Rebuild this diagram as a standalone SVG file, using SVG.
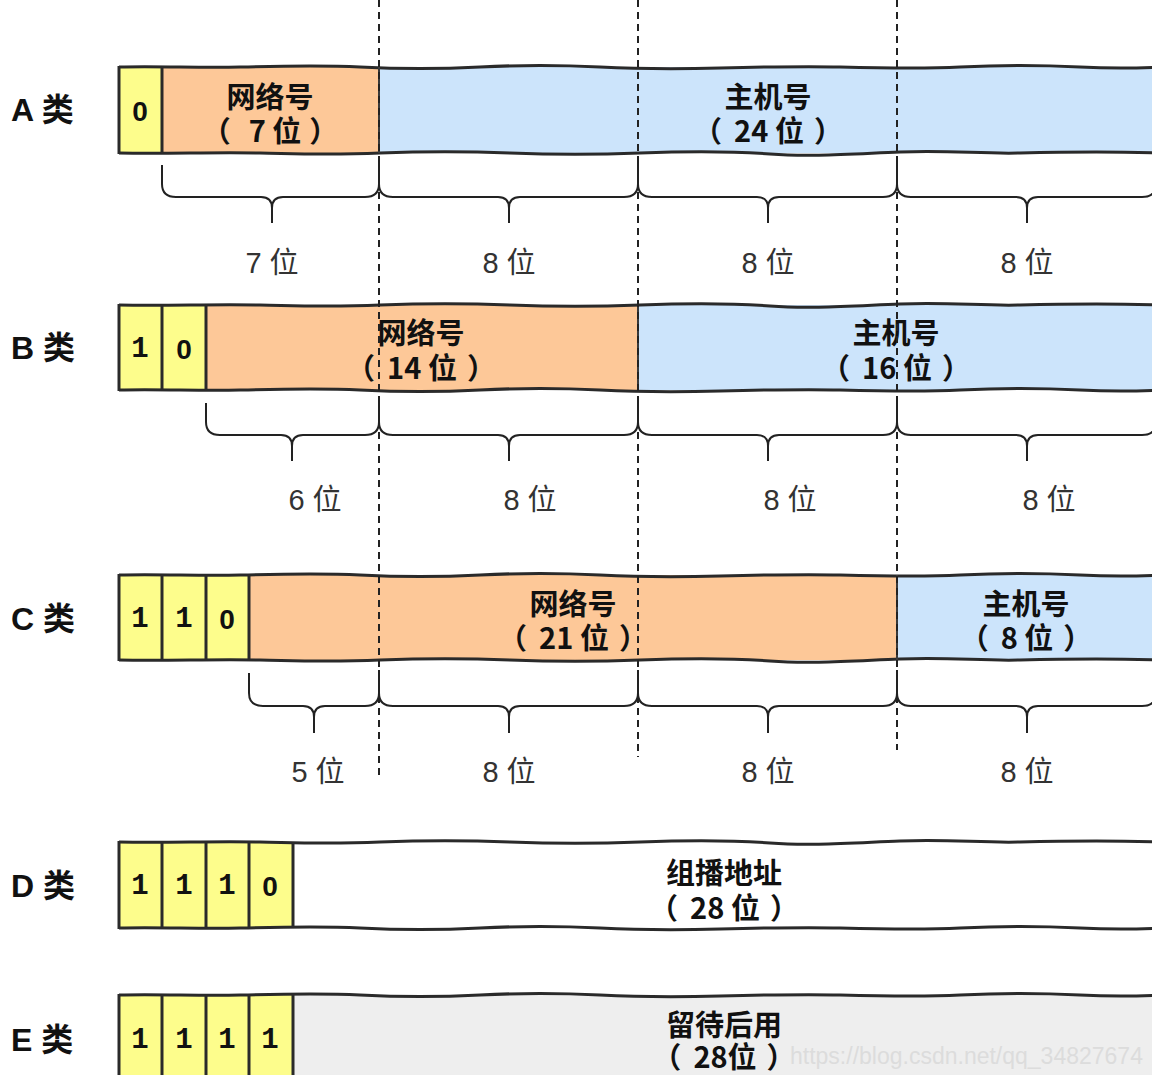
<svg xmlns="http://www.w3.org/2000/svg" xmlns:xlink="http://www.w3.org/1999/xlink" width="1152" height="1075" viewBox="0 0 1152 1075">
<style>
.bit{font-family:"Liberation Mono",monospace;font-weight:bold;font-size:29px;text-anchor:middle;dominant-baseline:central;fill:#111}
.bit0{font-family:"Liberation Sans",sans-serif;font-weight:bold;font-size:28px;text-anchor:middle;dominant-baseline:central;fill:#111}
.cls{font-family:"Liberation Sans","Noto Sans CJK SC",sans-serif;font-weight:bold;font-size:32px;dominant-baseline:central;fill:#111}
.fld{font-family:"Noto Sans CJK SC",sans-serif;font-weight:bold;font-size:29px;text-anchor:middle;dominant-baseline:central;fill:#111}
.lbl{font-family:"Liberation Sans","Noto Sans CJK SC",sans-serif;font-size:29px;text-anchor:middle;dominant-baseline:central;fill:#333}
.edge{fill:none;stroke:#2a2a2a;stroke-width:3}
.div{stroke:#2a2a2a;stroke-width:3}
.cdiv{stroke:#3a3a3a;stroke-width:2}
.brace{fill:none;stroke:#222;stroke-width:2}
.guide{stroke:#222;stroke-width:2;stroke-dasharray:7 5}
.y{fill:#fdfd8c}.o{fill:#fdc898}.b{fill:#cce4fb}.w{fill:#ffffff}.g{fill:#eeeeee}
.wm{font-family:"Liberation Sans",sans-serif;font-size:23px;fill:#dcdcdc}
</style>
<defs>
<path id="wave" d="M119,0 C160,-1 200,1 240,0 S320,-2 360,0 S440,2 480,0 S560,-2 600,0 S680,2 720,1 S800,-1 840,0 S920,2 960,0 S1040,-2 1080,0 S1140,1 1165,0"/>
<path id="wave2" d="M119,0 C170,1 210,-1 260,0 S330,2 380,0 S460,-2 510,0 S590,2 640,0 S730,-2 770,1 S850,1 900,-1 S980,1 1020,0 S1100,-2 1165,0"/>
</defs>

<g id="rowA">
<rect class="y" x="119" y="67" width="43" height="86"/>
<rect class="o" x="162" y="67" width="217" height="86"/>
<rect class="b" x="379" y="67" width="786" height="86"/>
<use xlink:href="#wave" class="edge" y="67"/>
<use xlink:href="#wave2" class="edge" y="153"/>
<line class="div" x1="119" y1="66" x2="119" y2="154"/>
<line class="div" x1="162" y1="67" x2="162" y2="153"/>
<line class="cdiv" x1="379" y1="67" x2="379" y2="153"/>
<text class="cls" x="11" y="110">A 类</text>
<text class="bit0" x="140" y="111">0</text>
<text class="fld" x="270" y="95">网络号</text>
<text class="fld" x="270" y="129">（<tspan dx="18">7 位</tspan><tspan dx="8">）</tspan></text>
<text class="fld" x="768" y="95">主机号</text>
<text class="fld" x="768" y="129">（<tspan dx="12">24 位</tspan><tspan dx="10">）</tspan></text>
</g>

<g id="rowB">
<rect class="y" x="119" y="305" width="87" height="85"/>
<rect class="o" x="206" y="305" width="432" height="85"/>
<rect class="b" x="638" y="305" width="527" height="85"/>
<use xlink:href="#wave2" class="edge" y="305"/>
<use xlink:href="#wave" class="edge" y="390"/>
<line class="div" x1="119" y1="304" x2="119" y2="391"/>
<line class="div" x1="162" y1="305" x2="162" y2="390"/>
<line class="div" x1="206" y1="305" x2="206" y2="390"/>
<line class="cdiv" x1="638" y1="305" x2="638" y2="390"/>
<text class="cls" x="11" y="348">B 类</text>
<text class="bit" x="140" y="349">1</text>
<text class="bit0" x="184" y="349">0</text>
<text class="fld" x="421" y="331">网络号</text>
<text class="fld" x="421" y="366">（<tspan dx="12">14 位</tspan><tspan dx="10">）</tspan></text>
<text class="fld" x="896" y="331">主机号</text>
<text class="fld" x="896" y="366">（<tspan dx="12">16 位</tspan><tspan dx="10">）</tspan></text>
</g>

<g id="rowC">
<rect class="y" x="119" y="575" width="130" height="85"/>
<rect class="o" x="249" y="575" width="648" height="85"/>
<rect class="b" x="897" y="575" width="268" height="85"/>
<use xlink:href="#wave" class="edge" y="575"/>
<use xlink:href="#wave2" class="edge" y="660"/>
<line class="div" x1="119" y1="574" x2="119" y2="661"/>
<line class="div" x1="162" y1="575" x2="162" y2="660"/>
<line class="div" x1="206" y1="575" x2="206" y2="660"/>
<line class="div" x1="249" y1="575" x2="249" y2="660"/>
<line class="cdiv" x1="897" y1="575" x2="897" y2="660"/>
<text class="cls" x="11" y="619">C 类</text>
<text class="bit" x="140" y="619">1</text>
<text class="bit" x="184" y="619">1</text>
<text class="bit0" x="227" y="619">0</text>
<text class="fld" x="573" y="602">网络号</text>
<text class="fld" x="573" y="636">（<tspan dx="12">21 位</tspan><tspan dx="10">）</tspan></text>
<text class="fld" x="1026" y="602">主机号</text>
<text class="fld" x="1026" y="636">（<tspan dx="12">8 位</tspan><tspan dx="10">）</tspan></text>
</g>

<g id="rowD">
<rect class="y" x="119" y="842" width="174" height="86"/>
<rect class="w" x="293" y="842" width="872" height="86"/>
<use xlink:href="#wave2" class="edge" y="842"/>
<use xlink:href="#wave" class="edge" y="928"/>
<line class="div" x1="119" y1="841" x2="119" y2="929"/>
<line class="div" x1="162" y1="842" x2="162" y2="928"/>
<line class="div" x1="206" y1="842" x2="206" y2="928"/>
<line class="div" x1="249" y1="842" x2="249" y2="928"/>
<line class="div" x1="293" y1="842" x2="293" y2="928"/>
<text class="cls" x="11" y="886">D 类</text>
<text class="bit" x="140" y="886">1</text>
<text class="bit" x="184" y="886">1</text>
<text class="bit" x="227" y="886">1</text>
<text class="bit0" x="270" y="886">0</text>
<text class="fld" x="724" y="871">组播地址</text>
<text class="fld" x="724" y="906">（<tspan dx="12">28 位</tspan><tspan dx="10">）</tspan></text>
</g>

<g id="rowE">
<rect class="y" x="119" y="995" width="174" height="90"/>
<rect class="g" x="293" y="995" width="872" height="90"/>
<use xlink:href="#wave" class="edge" y="995"/>
<line class="div" x1="119" y1="994" x2="119" y2="1080"/>
<line class="div" x1="162" y1="995" x2="162" y2="1080"/>
<line class="div" x1="206" y1="995" x2="206" y2="1080"/>
<line class="div" x1="249" y1="995" x2="249" y2="1080"/>
<line class="div" x1="293" y1="995" x2="293" y2="1080"/>
<text class="cls" x="11" y="1040">E 类</text>
<text class="bit" x="140" y="1040">1</text>
<text class="bit" x="184" y="1040">1</text>
<text class="bit" x="227" y="1040">1</text>
<text class="bit" x="270" y="1040">1</text>
<text class="fld" x="724" y="1023">留待后用</text>
<text class="fld" x="724" y="1055">（<tspan dx="12">28位</tspan><tspan dx="10">）</tspan></text>
<text class="wm" x="790" y="1064">https://blog.csdn.net/qq_34827674</text>
</g>

<g id="braces">
<path class="brace" d="M162,165 V184 Q162,197 176,197 H261 Q272,197 272,208 V223 M272,208 Q272,197 283,197 H365 Q379,197 379,184 V162"/>
<path class="brace" d="M379,162 V184 Q379,197 393,197 H498 Q509,197 509,208 V223 M509,208 Q509,197 520,197 H624 Q638,197 638,184 V162"/>
<path class="brace" d="M638,162 V184 Q638,197 652,197 H757 Q768,197 768,208 V223 M768,208 Q768,197 779,197 H883 Q897,197 897,184 V162"/>
<path class="brace" d="M897,162 V184 Q897,197 911,197 H1016 Q1027,197 1027,208 V223 M1027,208 Q1027,197 1038,197 H1142 Q1156,197 1156,184 V165"/>

<path class="brace" d="M206,403 V422 Q206,435 220,435 H281 Q292,435 292,446 V461 M292,446 Q292,435 303,435 H365 Q379,435 379,422 V400"/>
<path class="brace" d="M379,400 V422 Q379,435 393,435 H498 Q509,435 509,446 V461 M509,446 Q509,435 520,435 H624 Q638,435 638,422 V400"/>
<path class="brace" d="M638,400 V422 Q638,435 652,435 H757 Q768,435 768,446 V461 M768,446 Q768,435 779,435 H883 Q897,435 897,422 V400"/>
<path class="brace" d="M897,400 V422 Q897,435 911,435 H1016 Q1027,435 1027,446 V461 M1027,446 Q1027,435 1038,435 H1142 Q1156,435 1156,422 V403"/>

<path class="brace" d="M249,673 V693 Q249,706 263,706 H303 Q314,706 314,717 V733 M314,717 Q314,706 325,706 H365 Q379,706 379,693 V670"/>
<path class="brace" d="M379,670 V693 Q379,706 393,706 H498 Q509,706 509,717 V733 M509,717 Q509,706 520,706 H624 Q638,706 638,693 V670"/>
<path class="brace" d="M638,670 V693 Q638,706 652,706 H757 Q768,706 768,717 V733 M768,717 Q768,706 779,706 H883 Q897,706 897,693 V670"/>
<path class="brace" d="M897,670 V693 Q897,706 911,706 H1016 Q1027,706 1027,717 V733 M1027,717 Q1027,706 1038,706 H1142 Q1156,706 1156,693 V673"/>

<text class="lbl" x="272" y="263">7 位</text>
<text class="lbl" x="509" y="263">8 位</text>
<text class="lbl" x="768" y="263">8 位</text>
<text class="lbl" x="1027" y="263">8 位</text>
<text class="lbl" x="315" y="500">6 位</text>
<text class="lbl" x="530" y="500">8 位</text>
<text class="lbl" x="790" y="500">8 位</text>
<text class="lbl" x="1049" y="500">8 位</text>
<text class="lbl" x="318" y="772">5 位</text>
<text class="lbl" x="509" y="772">8 位</text>
<text class="lbl" x="768" y="772">8 位</text>
<text class="lbl" x="1027" y="772">8 位</text>
</g>

<g id="guides">
<line class="guide" x1="379" y1="0" x2="379" y2="775"/>
<line class="guide" x1="638" y1="0" x2="638" y2="757"/>
<line class="guide" x1="897" y1="0" x2="897" y2="750"/>
</g>
</svg>
